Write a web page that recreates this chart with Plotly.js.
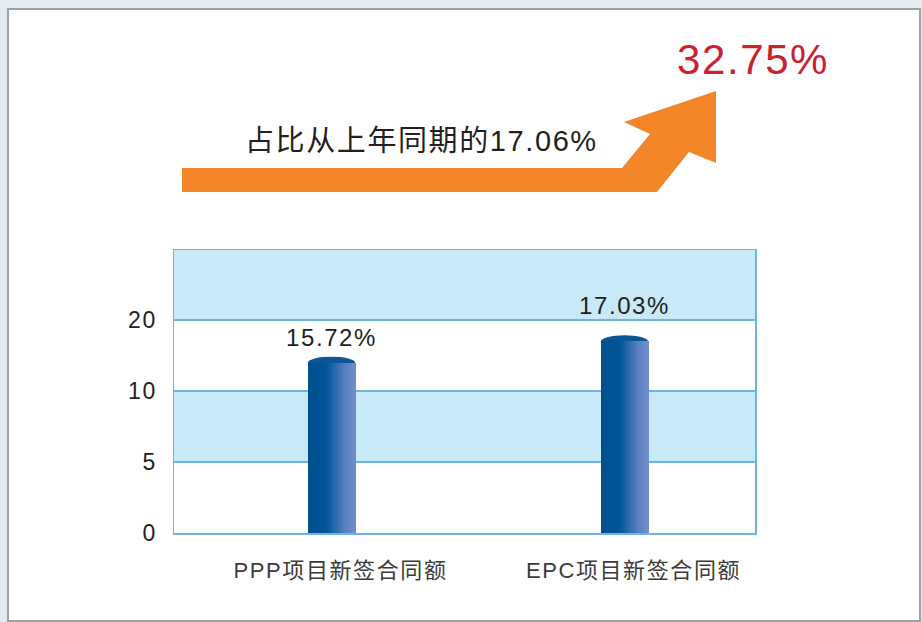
<!DOCTYPE html>
<html>
<head>
<meta charset="utf-8">
<script src="https://cdn.plot.ly/plotly-3.0.1.min.js"></script>
<style>
  html, body { margin: 0; padding: 0; background: #e3ebf1; }
  #chart { width: 922px; height: 622px; }
  svg text { letter-spacing: 1.6px; }
</style>
</head>
<body>
<div id="chart"></div>
<script>
// ---- data ----
const categories = ['PPP项目新签合同额', 'EPC项目新签合同额'];
const barHeights = [12.0, 13.5];            // bar heights on the drawn axis
const valueLabels = ['15.72%', '17.03%'];   // labels printed above the bars
const yTickVals = [0, 5, 10, 15];
const yTickText = ['0', '5', '10', '20'];
const headlineBefore = '占比从上年同期的17.06%';
const headlineAfter = '32.75%';

// ---- layout helpers ----
const L = 174, R = 755, T = 250, B = 533;
const px = X => (X - L) / (R - L);
const py = Y => (B - Y) / (B - T);
const yTop = 19.93;
const barW = 0.16;
const xIdx = categories.map((c, i) => i);

// gradient slices for cylinder look
const stops = [[0, [0, 80, 142]], [0.38, [2, 84, 152]], [0.58, [38, 104, 172]], [0.78, [86, 126, 192]], [1, [114, 144, 202]]];
function colAt(t) {
  for (let k = 0; k < stops.length - 1; k++) {
    const [t0, c0] = stops[k], [t1, c1] = stops[k + 1];
    if (t <= t1) {
      const f = (t - t0) / (t1 - t0);
      const c = c0.map((v, j) => Math.round(v + (c1[j] - v) * f));
      return 'rgb(' + c.join(',') + ')';
    }
  }
  return 'rgb(114,144,202)';
}
const N = 24;
const traces = [];
for (let s = 0; s < N; s++) {
  const step = barW / N;
  traces.push({
    type: 'bar',
    x: xIdx,
    y: barHeights,
    width: xIdx.map(() => step * 1.35),
    offset: xIdx.map(() => -barW / 2 + s * step),
    marker: { color: colAt((s + 0.5) / N), line: { width: 0 } },
    hoverinfo: 'skip',
    showlegend: false
  });
}

const shapes = [
  // white panel with grey frame
  { type: 'rect', xref: 'paper', yref: 'paper', layer: 'below',
    x0: px(8), x1: px(920), y0: py(9), y1: py(621),
    fillcolor: '#ffffff', line: { color: '#9ca0a4', width: 2 } },
  // light blue bands
  { type: 'rect', xref: 'paper', yref: 'y', layer: 'below', x0: 0, x1: 1, y0: 5, y1: 10,
    fillcolor: '#c7e9f8', line: { width: 0 } },
  { type: 'rect', xref: 'paper', yref: 'y', layer: 'below', x0: 0, x1: 1, y0: 15, y1: yTop,
    fillcolor: '#c7e9f8', line: { width: 0 } },
  // orange arrow
  { type: 'path', xref: 'paper', yref: 'paper', layer: 'above',
    path: 'M' + [[182,168],[622,168],[650,134],[624,122],[716,91],[716,163],[689,152],[657,192],[182,192]]
      .map(p => px(p[0]) + ',' + py(p[1])).join(' L') + ' Z',
    fillcolor: '#f4862a', line: { width: 0 } }
];
// cylinder caps
barHeights.forEach((v, i) => {
  shapes.push({ type: 'circle', xref: 'x', yref: 'y', layer: 'between',
    x0: i - barW / 2, x1: i + barW / 2, y0: v - 0.42, y1: v + 0.42,
    fillcolor: '#0a5698', line: { width: 0 } });
});

const labelShift = [10, 20];
const annotations = valueLabels.map((t, i) => ({
  x: i, y: barHeights[i], xref: 'x', yref: 'y', text: t, showarrow: false,
  yanchor: 'bottom', yshift: labelShift[i],
  font: { family: 'Liberation Sans, Arial, sans-serif', size: 24, color: '#231f20' }
}));
annotations.push({
  xref: 'paper', yref: 'paper', x: px(421), y: py(141), text: headlineBefore, showarrow: false,
  xanchor: 'center', yanchor: 'middle',
  font: { family: 'Liberation Sans, Noto Sans CJK SC, sans-serif', size: 29, color: '#231f20' }
});
annotations.push({
  xref: 'paper', yref: 'paper', x: px(753), y: py(59), text: headlineAfter, showarrow: false,
  xanchor: 'center', yanchor: 'middle',
  font: { family: 'Liberation Sans, Arial, sans-serif', size: 42, color: '#c9222e' }
});

const layout = {
  width: 922, height: 622,
  margin: { l: L, r: 922 - R, t: T, b: 622 - B, pad: 0 },
  paper_bgcolor: '#e3ebf1',
  plot_bgcolor: 'rgba(0,0,0,0)',
  barmode: 'overlay',
  bargap: 0,
  showlegend: false,
  xaxis: {
    type: 'linear', range: [-0.5375, 1.4454], tickvals: xIdx, ticktext: categories,
    showgrid: false, zeroline: false, ticks: '',
    showline: true, mirror: true, linecolor: '#6db3e3', linewidth: 1.5,
    ticklabelstandoff: 17, ticklabelshift: 9,
    tickfont: { family: 'Liberation Sans, Noto Sans CJK SC, sans-serif', size: 22, color: '#3b3b3b' }
  },
  yaxis: {
    range: [0, yTop], tickvals: yTickVals, ticktext: yTickText,
    showgrid: true, gridcolor: '#6db3e3', gridwidth: 1.5, zeroline: false, ticks: '',
    showline: true, mirror: true, linecolor: '#6db3e3', linewidth: 1.5,
    ticklabelstandoff: 11,
    tickfont: { family: 'Liberation Sans, Arial, sans-serif', size: 23, color: '#231f20' }
  },
  shapes: shapes,
  annotations: annotations
};

Plotly.newPlot('chart', traces, layout, { displayModeBar: false, staticPlot: true });
</script>
</body>
</html>
